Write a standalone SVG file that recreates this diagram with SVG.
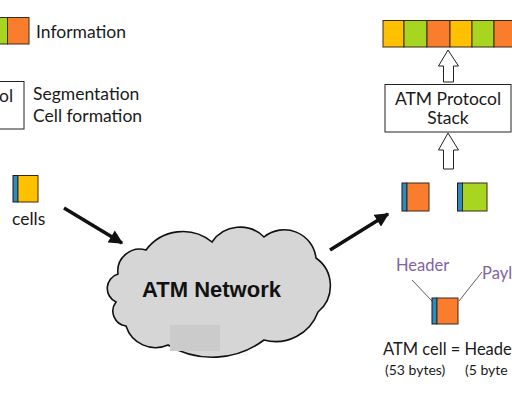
<svg xmlns="http://www.w3.org/2000/svg" width="512" height="406" viewBox="0 0 512 406">
<style>
.t{font-family:Lato,"Noto Sans",sans-serif;fill:#1a1a1a}
.y{fill:#ffc000;stroke:#3a2a1a;stroke-width:1}
.g{fill:#a8d520;stroke:#3a2a1a;stroke-width:1}
.o{fill:#f97d2c;stroke:#3a2a1a;stroke-width:1}
.b{fill:#2e8bc0;stroke:#1a1a1a;stroke-width:1}
.box{fill:#fff;stroke:#222;stroke-width:1}
.hol{fill:#fff;stroke:#222;stroke-width:1}
.arr{stroke:#111;stroke-width:3.5;fill:none}
.p{font-family:Lato,"Noto Sans",sans-serif;font-size:16.5px;fill:#8064a2}
</style>
<defs>
<marker id="ah" viewBox="0 0 10 10" refX="9" refY="5" markerWidth="4.2" markerHeight="4" orient="auto" markerUnits="strokeWidth">
<path d="M0,0 L10,5 L0,10 z" fill="#111"/>
</marker>
</defs>
<rect width="512" height="406" fill="#fff"/>

<g id="info-left">
<rect class="g" x="-10" y="17.5" width="17.5" height="26.5"/>
<rect class="o" x="7.5" y="17.5" width="21.5" height="26.5"/>
<text class="t" x="36" y="38" font-size="17.5">Information</text>
</g>

<g id="protocol-left">
<rect class="box" x="-40" y="81.5" width="64" height="47.5"/>
<text class="t" x="-1" y="102" font-size="17.5">ol</text>
<text class="t" x="33" y="100" font-size="17.5">Segmentation</text>
<text class="t" x="33" y="122" font-size="17.5">Cell formation</text>
</g>

<g id="cells-left">
<rect class="b" x="13" y="175.5" width="5" height="26.5"/>
<rect class="y" x="18" y="175.5" width="20" height="26.5"/>
<text class="t" x="12" y="225" font-size="17.5">cells</text>
</g>

<g id="atm-network">
<path d="M118,274 A22 22 0 0 1 146,250 A46 46 0 0 1 212,242 A34 34 0 0 1 264,237 A32 32 0 0 1 316,258 A34 34 0 0 1 318,312 A45 45 0 0 1 264,340 A86 86 0 0 1 168,345 A31 31 0 0 1 126,326 A15 15 0 0 1 116,302 A15 15 0 0 1 118,274 Z" fill="#d6d6d6" stroke="#111" stroke-width="1.6"/>
<rect x="170" y="325" width="50" height="26" fill="#cbcbcb"/>
<text x="142" y="297" font-family="'Liberation Sans',Arial,sans-serif" font-weight="bold" font-size="22" fill="#111">ATM Network</text>
</g>

<g id="info-right">
<rect class="y" x="383" y="20.5" width="21" height="26.5"/>
<rect class="g" x="404" y="20.5" width="23" height="26.5"/>
<rect class="o" x="427" y="20.5" width="23" height="26.5"/>
<rect class="y" x="450" y="20.5" width="22" height="26.5"/>
<rect class="g" x="472" y="20.5" width="22" height="26.5"/>
<rect class="o" x="494" y="20.5" width="22" height="26.5"/>
</g>

<g id="protocol-stack">
<rect class="box" x="385" y="84.5" width="126" height="47.5"/>
<text class="t" x="448" y="105" font-size="17.5" text-anchor="middle">ATM Protocol</text>
<text class="t" x="448" y="124" font-size="17.5" text-anchor="middle">Stack</text>
</g>

<g id="cells-right">
<rect class="b" x="402" y="183" width="5" height="28"/>
<rect class="o" x="407" y="183" width="22" height="28"/>
<rect class="b" x="457.5" y="183" width="5" height="28"/>
<rect class="g" x="462.5" y="183" width="24.5" height="28"/>
</g>

<g id="atm-cell">
<line x1="412" y1="280" x2="432" y2="301" stroke="#333" stroke-width="0.8"/>
<line x1="482" y1="272" x2="459" y2="301" stroke="#333" stroke-width="0.8"/>
<rect class="b" x="432" y="298" width="5" height="26"/>
<rect class="o" x="437" y="298" width="21" height="26"/>
<text class="p" x="396" y="271">Header</text>
<text class="p" x="482" y="279">Payl</text>
<text class="t" x="383" y="355" font-size="16.5">ATM cell = Heade</text>
<text class="t" x="385" y="375" font-size="14">(53 bytes)</text>
<text class="t" x="465" y="375" font-size="14">(5 byte</text>
</g>

<g id="connectors">
<line class="arr" x1="64" y1="208" x2="122" y2="243" marker-end="url(#ah)"/>
<line class="arr" x1="330" y1="250" x2="388" y2="214" marker-end="url(#ah)"/>
<path class="hol" d="M448,50 L458.5,66 L453.5,66 L453.5,82 L443.5,82 L443.5,66 L438.5,66 Z"/>
<path class="hol" d="M448,133 L458.5,150 L453.5,150 L453.5,169 L443.5,169 L443.5,150 L438.5,150 Z"/>
</g>
</svg>
